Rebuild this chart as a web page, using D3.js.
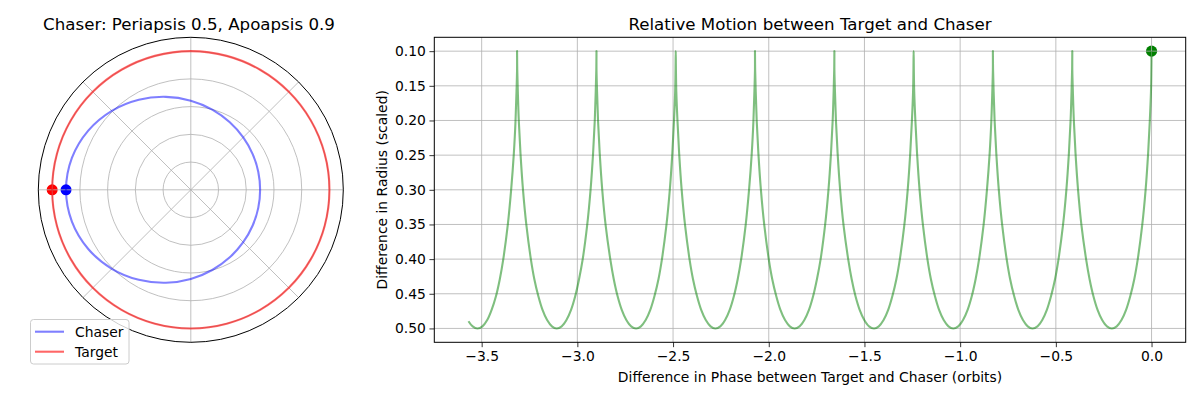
<!DOCTYPE html>
<html><head><meta charset="utf-8">
<script src="https://cdn.jsdelivr.net/npm/d3@7"></script>
<style>
body{margin:0;background:#fff}
svg{display:block}
text{font-family:"DejaVu Sans",sans-serif;fill:#000}
</style>
</head><body>
<svg id="chart" width="1200" height="400"></svg>
<script>
// ---------- Left panel: polar orbits ----------
const orbitAngles = [0,15,30,45,60,75,90,105,120,135,150,165,180,195,210,225,240,255,270,285,300,315,330,345];
const chaserRadius = [0.5000,0.5038,0.5153,0.5348,0.5625,0.5986,0.6429,0.6942,0.7500,0.8056,0.8542,0.8879,
                      0.9000,0.8879,0.8542,0.8056,0.7500,0.6942,0.6429,0.5986,0.5625,0.5348,0.5153,0.5038];
const targetRadius = [1,1,1,1,1,1,1,1,1,1,1,1,1,1,1,1,1,1,1,1,1,1,1,1];
const startAngle = 180;
const chaserStart = 0.9;
const targetStart = 1.0;
const radialTicks = [0.2,0.4,0.6,0.8,1.0];
const angularTicks = [0,45,90,135,180,225,270,315];
const radialMax = 1.1;
const legendLabels = ["Chaser","Target"];

// ---------- Right panel: relative motion ----------
const phaseDiff = [
 0.000,-0.001,-0.003,-0.009,-0.018,-0.031,-0.049,-0.072,-0.090,-0.111,-0.133,-0.157,-0.182,-0.207,-0.233,-0.258,-0.282,-0.304,-0.324,-0.342,-0.366,-0.384,-0.397,-0.406,-0.411,-0.414,
 -0.414,-0.415,-0.418,-0.423,-0.432,-0.445,-0.463,-0.486,-0.504,-0.525,-0.547,-0.571,-0.596,-0.622,-0.647,-0.672,-0.696,-0.718,-0.739,-0.757,-0.780,-0.798,-0.811,-0.820,-0.825,-0.828,
 -0.829,-0.829,-0.832,-0.837,-0.846,-0.860,-0.878,-0.901,-0.919,-0.939,-0.961,-0.985,-1.010,-1.036,-1.061,-1.086,-1.110,-1.132,-1.153,-1.171,-1.194,-1.212,-1.225,-1.234,-1.240,-1.242,
 -1.243,-1.244,-1.246,-1.252,-1.261,-1.274,-1.292,-1.315,-1.333,-1.354,-1.376,-1.400,-1.425,-1.450,-1.476,-1.501,-1.525,-1.547,-1.567,-1.585,-1.609,-1.627,-1.640,-1.649,-1.654,-1.657,
 -1.657,-1.658,-1.661,-1.666,-1.675,-1.688,-1.706,-1.729,-1.748,-1.768,-1.790,-1.814,-1.839,-1.865,-1.890,-1.915,-1.939,-1.961,-1.982,-2.000,-2.023,-2.041,-2.054,-2.063,-2.068,-2.071,
 -2.072,-2.072,-2.075,-2.080,-2.089,-2.103,-2.121,-2.144,-2.162,-2.182,-2.204,-2.228,-2.253,-2.279,-2.304,-2.329,-2.353,-2.375,-2.396,-2.414,-2.437,-2.455,-2.468,-2.477,-2.483,-2.485,
 -2.486,-2.487,-2.489,-2.495,-2.504,-2.517,-2.535,-2.558,-2.576,-2.597,-2.619,-2.643,-2.668,-2.693,-2.719,-2.744,-2.768,-2.790,-2.810,-2.828,-2.852,-2.870,-2.883,-2.892,-2.897,-2.900,
 -2.900,-2.901,-2.904,-2.909,-2.918,-2.931,-2.949,-2.972,-2.991,-3.011,-3.033,-3.057,-3.082,-3.108,-3.133,-3.158,-3.182,-3.204,-3.225,-3.243,-3.266,-3.284,-3.297,-3.306,-3.311,-3.314,
 -3.315,-3.315,-3.318,-3.323,-3.332,-3.346,-3.364,-3.387,-3.405,-3.425,-3.448,-3.471,-3.496,-3.522,-3.547,-3.569
];
const radiusDiff = [
 0.1000,0.1268,0.1586,0.2000,0.2482,0.3000,0.3518,0.4000,0.4286,0.4532,0.4732,0.4879,0.4970,0.5000,0.4970,0.4879,0.4732,0.4532,0.4286,0.4000,0.3518,0.3000,0.2482,0.2000,0.1586,0.1268,
 0.1000,0.1268,0.1586,0.2000,0.2482,0.3000,0.3518,0.4000,0.4286,0.4532,0.4732,0.4879,0.4970,0.5000,0.4970,0.4879,0.4732,0.4532,0.4286,0.4000,0.3518,0.3000,0.2482,0.2000,0.1586,0.1268,
 0.1000,0.1268,0.1586,0.2000,0.2482,0.3000,0.3518,0.4000,0.4286,0.4532,0.4732,0.4879,0.4970,0.5000,0.4970,0.4879,0.4732,0.4532,0.4286,0.4000,0.3518,0.3000,0.2482,0.2000,0.1586,0.1268,
 0.1000,0.1268,0.1586,0.2000,0.2482,0.3000,0.3518,0.4000,0.4286,0.4532,0.4732,0.4879,0.4970,0.5000,0.4970,0.4879,0.4732,0.4532,0.4286,0.4000,0.3518,0.3000,0.2482,0.2000,0.1586,0.1268,
 0.1000,0.1268,0.1586,0.2000,0.2482,0.3000,0.3518,0.4000,0.4286,0.4532,0.4732,0.4879,0.4970,0.5000,0.4970,0.4879,0.4732,0.4532,0.4286,0.4000,0.3518,0.3000,0.2482,0.2000,0.1586,0.1268,
 0.1000,0.1268,0.1586,0.2000,0.2482,0.3000,0.3518,0.4000,0.4286,0.4532,0.4732,0.4879,0.4970,0.5000,0.4970,0.4879,0.4732,0.4532,0.4286,0.4000,0.3518,0.3000,0.2482,0.2000,0.1586,0.1268,
 0.1000,0.1268,0.1586,0.2000,0.2482,0.3000,0.3518,0.4000,0.4286,0.4532,0.4732,0.4879,0.4970,0.5000,0.4970,0.4879,0.4732,0.4532,0.4286,0.4000,0.3518,0.3000,0.2482,0.2000,0.1586,0.1268,
 0.1000,0.1268,0.1586,0.2000,0.2482,0.3000,0.3518,0.4000,0.4286,0.4532,0.4732,0.4879,0.4970,0.5000,0.4970,0.4879,0.4732,0.4532,0.4286,0.4000,0.3518,0.3000,0.2482,0.2000,0.1586,0.1268,
 0.1000,0.1268,0.1586,0.2000,0.2482,0.3000,0.3518,0.4000,0.4286,0.4532,0.4732,0.4879,0.4970,0.5000,0.4970,0.4896
];
const startPhase = 0.0;
const startRadiusDiff = 0.1;
const phaseTicks = [-3.5,-3.0,-2.5,-2.0,-1.5,-1.0,-0.5,0.0];
const radiusTicks = [0.10,0.15,0.20,0.25,0.30,0.35,0.40,0.45,0.50];

// ---------- Drawing ----------
const svg = d3.select("#chart");
const GRID = "#b0b0b0";
const TICKFONT = 13.89;

// Polar panel
const cx = 190.8, cy = 189.8, R = 152.5;
const rScale = d3.scaleLinear().domain([0, radialMax]).range([0, R]);
const toRad = d => d * Math.PI / 180;
const px = (a, r) => cx + rScale(r) * Math.cos(toRad(a));
const py = (a, r) => cy - rScale(r) * Math.sin(toRad(a));

const polar = svg.append("g");
polar.append("circle").attr("cx", px(startAngle, chaserStart)).attr("cy", py(startAngle, chaserStart)).attr("r", 5.5).attr("fill", "#0000ff");
polar.append("circle").attr("cx", px(startAngle, targetStart)).attr("cy", py(startAngle, targetStart)).attr("r", 5.5).attr("fill", "#ff0000");
polar.selectAll("circle.grid").data(radialTicks).join("circle").attr("class", "grid")
  .attr("cx", cx).attr("cy", cy).attr("r", d => rScale(d))
  .attr("fill", "none").attr("stroke", GRID).attr("stroke-width", 0.8);
polar.selectAll("line.grid").data(angularTicks).join("line").attr("class", "grid")
  .attr("x1", cx).attr("y1", cy)
  .attr("x2", d => px(d, radialMax)).attr("y2", d => py(d, radialMax))
  .attr("stroke", GRID).attr("stroke-width", 0.8);
const orbitLine = d3.line().curve(d3.curveCatmullRomClosed.alpha(0.5));
const chaserPts = orbitAngles.map((a, i) => [px(a, chaserRadius[i]), py(a, chaserRadius[i])]);
const targetPts = orbitAngles.map((a, i) => [px(a, targetRadius[i]), py(a, targetRadius[i])]);
polar.append("path").attr("d", orbitLine(chaserPts)).attr("fill", "none")
  .attr("stroke", "rgba(0,0,255,0.5)").attr("stroke-width", 2.1);
polar.append("path").attr("d", orbitLine(targetPts)).attr("fill", "none")
  .attr("stroke", "rgba(255,0,0,0.6)").attr("stroke-width", 2.1);
polar.append("circle").attr("cx", cx).attr("cy", cy).attr("r", rScale(radialMax))
  .attr("fill", "none").attr("stroke", "#000").attr("stroke-width", 1);
svg.append("text").attr("x", 189).attr("y", 29.5).attr("text-anchor", "middle")
  .attr("font-size", 16.67).text("Chaser: Periapsis 0.5, Apoapsis 0.9");
const lg = svg.append("g");
lg.append("rect").attr("x", 30.5).attr("y", 319.5).attr("width", 98.5).attr("height", 44.5).attr("rx", 3)
  .attr("fill", "rgba(255,255,255,0.8)").attr("stroke", "#cccccc").attr("stroke-width", 1);
const legendColors = ["rgba(0,0,255,0.5)", "rgba(255,0,0,0.6)"];
legendLabels.forEach((lab, i) => {
  const yy = 331.7 + i * 20;
  lg.append("line").attr("x1", 35).attr("x2", 64).attr("y1", yy).attr("y2", yy)
    .attr("stroke", legendColors[i]).attr("stroke-width", 2.1);
  lg.append("text").attr("x", 75).attr("y", yy + 5).attr("font-size", TICKFONT).text(lab);
});

// Right panel
const L = 434.3, Rr = 1185.7, T = 37.3, B = 342.3;
const xExt = d3.extent(phaseDiff), yExt = d3.extent(radiusDiff);
const xPad = (xExt[1] - xExt[0]) * 0.05, yPad = (yExt[1] - yExt[0]) * 0.05;
const x = d3.scaleLinear().domain([xExt[0] - xPad, xExt[1] + xPad]).range([L, Rr]);
const y = d3.scaleLinear().domain([yExt[0] - yPad, yExt[1] + yPad]).range([T, B]);

const right = svg.append("g");
right.append("circle").attr("cx", x(startPhase)).attr("cy", y(startRadiusDiff)).attr("r", 5.6).attr("fill", "#008000");
right.selectAll("line.vg").data(phaseTicks).join("line").attr("class", "vg")
  .attr("x1", d => x(d)).attr("x2", d => x(d)).attr("y1", T).attr("y2", B)
  .attr("stroke", GRID).attr("stroke-width", 0.8);
right.selectAll("line.hg").data(radiusTicks).join("line").attr("class", "hg")
  .attr("y1", d => y(d)).attr("y2", d => y(d)).attr("x1", L).attr("x2", Rr)
  .attr("stroke", GRID).attr("stroke-width", 0.8);
const rel = phaseDiff.map((p, i) => [x(p), y(radiusDiff[i])]);
right.append("path").attr("d", d3.line().curve(d3.curveCatmullRom.alpha(0.5))(rel))
  .attr("fill", "none").attr("stroke", "rgba(0,128,0,0.5)").attr("stroke-width", 2.1);
const xAxis = d3.axisBottom(x).tickValues(phaseTicks).tickFormat(d3.format(".1f")).tickSize(4.86).tickPadding(3.5);
const yAxis = d3.axisLeft(y).tickValues(radiusTicks).tickFormat(d3.format(".2f")).tickSize(4.86).tickPadding(3.5);
const gx = right.append("g").attr("transform", `translate(0,${B})`).call(xAxis);
const gy = right.append("g").attr("transform", `translate(${L},0)`).call(yAxis);
[gx, gy].forEach(g => {
  g.attr("font-family", "DejaVu Sans").attr("font-size", TICKFONT);
  g.select(".domain").remove();
  g.selectAll(".tick line").attr("stroke", "#000").attr("stroke-width", 0.8);
  g.selectAll(".tick text").attr("fill", "#000");
});
right.append("rect").attr("x", L).attr("y", T).attr("width", Rr - L).attr("height", B - T)
  .attr("fill", "none").attr("stroke", "#000").attr("stroke-width", 1);
svg.append("text").attr("x", (L + Rr) / 2).attr("y", 29.5).attr("text-anchor", "middle")
  .attr("font-size", 16.67).text("Relative Motion between Target and Chaser");
svg.append("text").attr("x", (L + Rr) / 2).attr("y", 382.3).attr("text-anchor", "middle")
  .attr("font-size", TICKFONT).text("Difference in Phase between Target and Chaser (orbits)");
svg.append("text").attr("transform", `translate(386.5,${(T + B) / 2}) rotate(-90)`).attr("text-anchor", "middle")
  .attr("font-size", TICKFONT).text("Difference in Radius (scaled)");
</script>
</body></html>
